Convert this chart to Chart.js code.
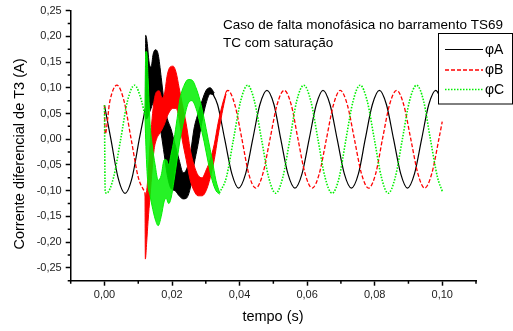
<!DOCTYPE html>
<html lang="pt-BR">
<head>
<meta charset="utf-8">
<title>Corrente diferencial de T3</title>
<script src="https://cdn.jsdelivr.net/npm/chart.js@4.4.1/dist/chart.umd.min.js"></script>
<style>
  html, body { margin: 0; padding: 0; background: #fff; }
  #grafico { display: block; }
</style>
</head>
<body>
<canvas id="grafico" width="513" height="331"></canvas>
<script>
// Fase A - antes da falta
const tPreA = [0, 0.0019, 0.0040, 0.0061, 0.0082, 0.0103, 0.0121];
const vPreA = [0.066, 0, -0.074, -0.105, -0.074, 0, 0.06];
// Fase A - faixa de oscilação durante a falta (limites superior e inferior)
const tFaixaA = [0.0121, 0.0122, 0.0126, 0.0132, 0.0138, 0.0144, 0.0151, 0.0159, 0.0168, 0.0177, 0.0186, 0.0197,
  0.0209, 0.0221, 0.0233, 0.0242, 0.0254, 0.0265, 0.0277, 0.0289, 0.0301, 0.0313, 0.0325];
const supA = [0.06, 0.202, 0.19, 0.15, 0.14, 0.165, 0.174, 0.165, 0.12, 0.07, 0.04, 0.02,
  -0.01, -0.04, -0.065, -0.06, -0.03, 0.02, 0.05, 0.075, 0.095, 0.10, 0.09];
const infA = [0.06, 0.04, 0.04, 0.05, 0.06, 0.07, 0.06, 0.04, 0.01, -0.03, -0.07, -0.096,
  -0.10, -0.11, -0.116, -0.115, -0.095, -0.05, -0.01, 0.035, 0.07, 0.088, 0.086];
// Fase A - regime após a falta
const tPosA = [0.0314, 0.0335, 0.0356, 0.0377, 0.0397, 0.0418, 0.0439, 0.0460, 0.0481, 0.0502, 0.0522, 0.0543,
  0.0564, 0.0585, 0.0606, 0.0627, 0.0647, 0.0668, 0.0689, 0.0710, 0.0731, 0.0752, 0.0772, 0.0793,
  0.0814, 0.0835, 0.0856, 0.0877, 0.0897, 0.0918, 0.0939, 0.0960, 0.0981, 0.1000];
const vPosA = [0.096, 0.067, 0, -0.067, -0.095, -0.067, 0, 0.067, 0.095, 0.067, 0, -0.067,
  -0.095, -0.067, 0, 0.067, 0.095, 0.067, 0, -0.067, -0.095, -0.067, 0, 0.067,
  0.095, 0.067, 0, -0.067, -0.095, -0.067, 0, 0.067, 0.095, 0.072];

// Fase B
const tPreB = [0, 0.0002, 0.0016, 0.0037, 0.0058, 0.0079, 0.0100, 0.0120];
const vPreB = [0.066, 0.01, 0.074, 0.105, 0.074, 0, -0.074, -0.104];
const tFaixaB = [0.0120, 0.0121, 0.0125, 0.0129, 0.0135, 0.0141, 0.0147, 0.0154, 0.0162, 0.0171, 0.0178, 0.0186,
  0.0194, 0.0203, 0.0212, 0.0221, 0.0230, 0.0242, 0.0254, 0.0265, 0.0277, 0.0289, 0.0301, 0.0313,
  0.0325, 0.0336, 0.0348, 0.0360];
const supB = [-0.104, -0.11, -0.10, -0.07, -0.01, 0.04, 0.075, 0.092, 0.094, 0.08, 0.09, 0.125,
  0.14, 0.142, 0.13, 0.10, 0.07, 0.03, -0.02, -0.05, -0.07, -0.075, -0.06, -0.04,
  -0.01, 0.03, 0.065, 0.092];
const infB = [-0.104, -0.233, -0.20, -0.16, -0.11, -0.06, -0.02, 0.0, 0.01, 0.02, 0.03, 0.045,
  0.055, 0.06, 0.06, 0.04, 0.0, -0.04, -0.08, -0.10, -0.11, -0.11, -0.10, -0.075,
  -0.04, 0.005, 0.05, 0.088];
const tPosB = [0.0360, 0.0365, 0.0386, 0.0407, 0.0427, 0.0448, 0.0469, 0.0490, 0.0511, 0.0532, 0.0553, 0.0573,
  0.0594, 0.0615, 0.0636, 0.0657, 0.0678, 0.0698, 0.0719, 0.0740, 0.0761, 0.0782, 0.0803, 0.0823,
  0.0844, 0.0865, 0.0886, 0.0907, 0.0928, 0.0948, 0.0969, 0.0990, 0.1000];
const vPosB = [0.092, 0.095, 0.067, 0, -0.067, -0.095, -0.067, 0, 0.067, 0.095, 0.067, 0,
  -0.067, -0.095, -0.067, 0, 0.067, 0.095, 0.067, 0, -0.067, -0.095, -0.067, 0,
  0.067, 0.095, 0.067, 0, -0.067, -0.095, -0.067, 0, 0.034];

// Fase C
const tPreC = [0, 0.0002, 0.0006, 0.0027, 0.0048, 0.0068, 0.0089, 0.0110, 0.0120];
const vPreC = [0.066, -0.100, -0.105, -0.074, 0, 0.074, 0.105, 0.074, 0.045];
const tFaixaC = [0.0120, 0.0122, 0.0125, 0.0129, 0.0135, 0.0141, 0.0150, 0.0159, 0.0168, 0.0177, 0.0183, 0.0190,
  0.0197, 0.0206, 0.0215, 0.0224, 0.0236, 0.0248, 0.0259, 0.0271, 0.0283, 0.0295, 0.0307, 0.0319,
  0.0330, 0.0341];
const supC = [0.045, 0.17, 0.17, 0.12, 0.03, -0.01, -0.05, -0.08, -0.07, -0.04, -0.04, -0.05,
  -0.03, 0.0, 0.04, 0.08, 0.105, 0.116, 0.115, 0.10, 0.075, 0.04, 0.0, -0.04,
  -0.08, -0.104];
const infC = [0.045, 0.0, -0.05, -0.09, -0.11, -0.13, -0.155, -0.168, -0.15, -0.12, -0.115, -0.125,
  -0.115, -0.08, -0.04, 0.0, 0.04, 0.07, 0.075, 0.06, 0.03, -0.005, -0.045, -0.08,
  -0.10, -0.107];
const tPosC = [0.0340, 0.0361, 0.0382, 0.0403, 0.0424, 0.0444, 0.0465, 0.0486, 0.0507, 0.0528, 0.0549, 0.0569,
  0.0590, 0.0611, 0.0632, 0.0653, 0.0674, 0.0695, 0.0715, 0.0736, 0.0757, 0.0778, 0.0799, 0.0820,
  0.0840, 0.0861, 0.0882, 0.0903, 0.0924, 0.0945, 0.0965, 0.0986, 0.1000];
const vPosC = [-0.105, -0.074, 0, 0.074, 0.105, 0.074, 0, -0.074, -0.105, -0.074, 0, 0.074,
  0.105, 0.074, 0, -0.074, -0.105, -0.074, 0, 0.074, 0.105, 0.074, 0, -0.074,
  -0.105, -0.074, 0, 0.074, 0.105, 0.074, 0, -0.074, -0.101];

const legendas = ['\u03c6A', '\u03c6B', '\u03c6C'];
const titulo = ['Caso de falta monof\u00e1sica no barramento TS69', 'TC com satura\u00e7\u00e3o'];

const fonte = '"Liberation Sans", Arial, sans-serif';
Chart.defaults.font.family = fonte;

const pontos = (t, v) => t.map((x, i) => ({ x: x, y: v[i] }));

// cada fase: traço antes da falta, faixa preenchida (oscilação) e traço depois
function fase(cor, largura, tracejado, ordem, preenchimento, tPre, vPre, tFaixa, sup, inf, tPos, vPos) {
  const base = {
    borderColor: cor, borderWidth: largura, borderDash: tracejado, pointRadius: 0,
    order: ordem, cubicInterpolationMode: 'monotone', fill: false
  };
  return [
    { ...base, data: pontos(tPre, vPre) },
    { ...base, borderDash: [], borderWidth: 1, data: pontos(tFaixa, sup) },
    { ...base, borderDash: [], borderWidth: 1, data: pontos(tFaixa, inf), fill: '-1', backgroundColor: preenchimento },
    { ...base, data: pontos(tPos, vPos) }
  ];
}

const cores = ['#000000', '#ff0000', '#00f000'];
const larguras = [1.2, 1.3, 1.6];
const tracos = [[], [4, 2], [1.5, 1.5]];

const datasets = [
  ...fase(cores[0], larguras[0], tracos[0], 3, '#000000', tPreA, vPreA, tFaixaA, supA, infA, tPosA, vPosA),
  ...fase(cores[1], larguras[1], tracos[1], 2, '#ff0000', tPreB, vPreB, tFaixaB, supB, infB, tPosB, vPosB),
  ...fase(cores[2], larguras[2], tracos[2], 1, 'rgba(0,240,0,0.85)', tPreC, vPreC, tFaixaC, supC, infC, tPosC, vPosC)
];

const ehMaiorX = v => Math.round(v * 100) % 2 === 0;
const ehMaiorY = v => Math.round(v * 1000) % 50 === 0;
const rotulo = v => v.toFixed(2).replace('.', ',').replace('-0,00', '0,00');

// marcas secundárias, títulos dos eixos, texto e legenda
const extras = {
  id: 'extras',
  afterDraw(chart) {
    const c = chart.ctx;
    const { x, y } = chart.scales;
    const area = chart.chartArea;
    c.save();
    c.strokeStyle = '#000';
    c.lineWidth = 1.5;
    c.beginPath();
    x.ticks.forEach(t => {
      if (!ehMaiorX(t.value)) {
        const px = x.getPixelForValue(t.value);
        c.moveTo(px, area.bottom);
        c.lineTo(px, area.bottom + 3);
      }
    });
    y.ticks.forEach(t => {
      if (!ehMaiorY(t.value)) {
        const py = y.getPixelForValue(t.value);
        c.moveTo(area.left, py);
        c.lineTo(area.left - 3, py);
      }
    });
    c.stroke();

    c.fillStyle = '#000';
    c.textBaseline = 'middle';
    c.font = '14.5px ' + fonte;
    c.textAlign = 'center';
    c.fillText('tempo (s)', 273, 317);
    c.save();
    c.translate(20, 154);
    c.rotate(-Math.PI / 2);
    c.fillText('Corrente diferencial de T3 (A)', 0, 0);
    c.restore();

    c.textAlign = 'left';
    c.font = '13.5px ' + fonte;
    c.fillText(titulo[0], 223, 25);
    c.fillText(titulo[1], 223, 43);

    // legenda
    c.fillStyle = '#fff';
    c.fillRect(438.5, 33.5, 74, 70.5);
    c.lineWidth = 1;
    c.strokeStyle = '#000';
    c.strokeRect(438.5, 33.5, 74, 70.5);
    const linhas = [49.5, 70, 89.5];
    legendas.forEach((txt, i) => {
      c.beginPath();
      c.strokeStyle = cores[i];
      c.lineWidth = larguras[i];
      c.setLineDash(tracos[i]);
      c.moveTo(445, linhas[i]);
      c.lineTo(483, linhas[i]);
      c.stroke();
      c.setLineDash([]);
      c.fillStyle = '#000';
      c.font = '14px ' + fonte;
      c.fillText(txt, 485, linhas[i] + 0.5);
    });
    c.restore();
  }
};

const ctx = document.getElementById('grafico').getContext('2d');
const chart = new Chart(ctx, {
  type: 'line',
  data: { datasets: datasets },
  options: {
    responsive: false,
    animation: false,
    devicePixelRatio: 1,
    layout: { padding: { left: 0, right: 37, top: 9, bottom: 0 } },
    plugins: {
      legend: { display: false },
      tooltip: { enabled: false }
    },
    scales: {
      x: {
        type: 'linear',
        min: -0.01,
        max: 0.11,
        afterFit: s => { s.height = 50.3; },
        border: { color: '#000', width: 1.5 },
        grid: {
          drawOnChartArea: false,
          tickLength: 5,
          tickWidth: 1.5,
          tickColor: c => ehMaiorX(c.tick.value) ? '#000' : 'rgba(0,0,0,0)'
        },
        ticks: {
          stepSize: 0.01,
          autoSkip: false,
          maxRotation: 0,
          padding: 3,
          color: '#222',
          font: { size: 11 },
          callback: v => ehMaiorX(v) ? rotulo(v) : ''
        }
      },
      y: {
        min: -0.275,
        max: 0.25,
        afterFit: s => { s.width = 70.7; },
        border: { color: '#000', width: 1.5 },
        grid: {
          drawOnChartArea: false,
          tickLength: 5,
          tickWidth: 1.5,
          tickColor: c => ehMaiorY(c.tick.value) ? '#000' : 'rgba(0,0,0,0)'
        },
        ticks: {
          stepSize: 0.025,
          autoSkip: false,
          padding: 4,
          color: '#222',
          font: { size: 11 },
          callback: v => ehMaiorY(v) ? rotulo(v) : ''
        }
      }
    }
  },
  plugins: [extras]
});
</script>
</body>
</html>
